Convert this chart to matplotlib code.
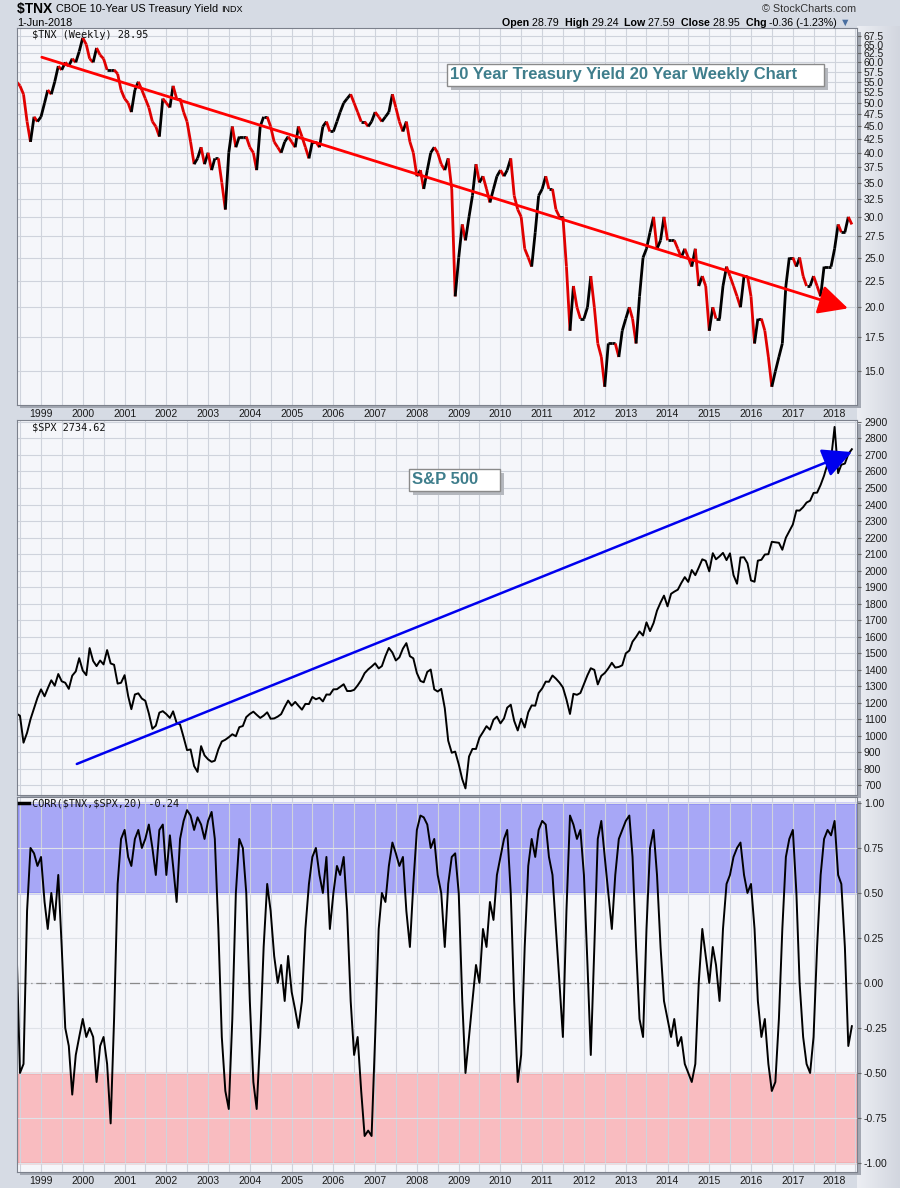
import numpy as np
import pandas as pd
import matplotlib
matplotlib.use("Agg")
import matplotlib.pyplot as plt
import matplotlib.dates as mdates
import matplotlib.patheffects as pe
from matplotlib.collections import LineCollection
from matplotlib.colors import LinearSegmentedColormap
from matplotlib.patches import Rectangle
from matplotlib.ticker import FixedLocator, FormatStrFormatter, NullLocator

plt.rcParams['font.family'] = ['Liberation Sans', 'DejaVu Sans']

# monthly samples, Jun 1998 .. Jun 2018
dates = pd.date_range('1998-06-01', '2018-06-01', freq='MS')

# $TNX (yield x 10)
tnx = [55, 54, 52, 46, 42, 47, 46,
       47, 50, 53, 52, 55, 59, 58, 60, 59, 61, 60, 63,
       67, 65, 61, 60, 64, 62, 61, 58, 58, 58, 57, 53,
       51, 50, 48, 53, 55, 53, 51, 49, 46, 45, 43, 51,
       50, 49, 54, 51, 51, 48, 46, 42, 38, 39, 41, 38,
       40, 37, 39, 39, 35, 31, 40, 45, 41, 43, 43, 43,
       41, 40, 37, 45, 47, 47, 45, 42, 41, 40, 42, 43,
       42, 41, 45, 43, 41, 39, 42, 42, 41, 45, 46, 44,
       44, 46, 48, 50, 51, 52, 50, 48, 46, 46, 45, 46,
       48, 47, 46, 47, 48, 52, 49, 46, 44, 46, 42, 40,
       36, 37, 34, 37, 40, 41, 40, 38, 37, 39, 34, 21,
       25, 29, 27, 30, 33, 38, 35, 36, 34, 32, 34, 36,
       37, 36, 37, 39, 33, 31, 30, 26, 25, 24, 28, 33,
       34, 36, 34, 34, 31, 30, 30, 24, 18, 22, 20, 19,
       19, 20, 23, 20, 17, 16, 14, 17, 17, 17, 16, 18,
       19, 20, 19, 17, 21, 25, 26, 28, 30, 26, 27, 30,
       27, 27, 27, 26, 25, 26, 25, 24, 26, 22, 23, 22,
       18, 20, 19, 19, 22, 24, 23, 22, 21, 20, 23, 23,
       21, 17, 19, 19, 18, 16, 14, 15, 16, 17, 22, 25,
       25, 24, 25, 23, 22, 22, 23, 22, 21, 24, 24, 24,
       26, 29, 28, 28, 30, 29]

# $SPX
spx = [1133, 1120, 957, 1017, 1099, 1164, 1229,
       1280, 1238, 1286, 1335, 1302, 1373, 1329, 1320, 1283, 1363, 1389, 1469,
       1394, 1366, 1530, 1452, 1421, 1455, 1431, 1518, 1437, 1429, 1315, 1320,
       1366, 1240, 1160, 1249, 1256, 1224, 1211, 1134, 1041, 1060, 1139, 1148,
       1130, 1107, 1147, 1077, 1067, 990, 912, 916, 815, 780, 936, 880,
       856, 841, 848, 917, 964, 975, 990, 1008, 996, 1051, 1058, 1112,
       1131, 1145, 1126, 1107, 1121, 1141, 1102, 1104, 1115, 1130, 1174, 1212,
       1181, 1204, 1181, 1157, 1192, 1191, 1234, 1220, 1229, 1207, 1249, 1248,
       1280, 1281, 1295, 1311, 1270, 1270, 1277, 1304, 1336, 1378, 1401, 1418,
       1438, 1407, 1421, 1482, 1531, 1503, 1455, 1474, 1527, 1560, 1481, 1468,
       1379, 1331, 1323, 1386, 1400, 1280, 1267, 1283, 1166, 969, 896, 903,
       826, 735, 680, 873, 919, 919, 987, 1021, 1057, 1036, 1096, 1115,
       1074, 1104, 1169, 1187, 1089, 1031, 1102, 1049, 1141, 1183, 1181, 1258,
       1286, 1327, 1326, 1364, 1345, 1321, 1292, 1219, 1131, 1253, 1247, 1258,
       1312, 1366, 1408, 1398, 1310, 1362, 1379, 1407, 1441, 1412, 1416, 1426,
       1498, 1515, 1569, 1598, 1631, 1606, 1686, 1633, 1682, 1757, 1806, 1848,
       1783, 1859, 1872, 1884, 1924, 1960, 1931, 2003, 1972, 2018, 2068, 2059,
       1995, 2105, 2068, 2086, 2107, 2063, 2104, 1972, 1920, 2079, 2080, 2044,
       1940, 1932, 2060, 2065, 2097, 2099, 2174, 2171, 2168, 2126, 2199, 2239,
       2279, 2364, 2363, 2384, 2412, 2423, 2470, 2472, 2519, 2575, 2648, 2674,
       2870, 2590, 2641, 2648, 2705, 2735]

# CORR($TNX,$SPX,20)
corr = [0.2, -0.5, -0.45, 0.4, 0.75, 0.72, 0.65,
        0.7, 0.45, 0.3, 0.5, 0.35, 0.6, 0.2, -0.25, -0.35, -0.62, -0.4, -0.3,
        -0.2, -0.3, -0.25, -0.3, -0.55, -0.35, -0.3, -0.45, -0.78, -0.2, 0.55, 0.8,
        0.85, 0.7, 0.65, 0.8, 0.85, 0.75, 0.8, 0.88, 0.75, 0.6, 0.85, 0.88,
        0.6, 0.82, 0.65, 0.45, 0.8, 0.9, 0.96, 0.93, 0.85, 0.92, 0.88, 0.8,
        0.9, 0.95, 0.8, 0.3, -0.3, -0.6, -0.7, -0.2, 0.5, 0.8, 0.75, 0.5,
        -0.1, -0.55, -0.7, -0.3, 0.2, 0.55, 0.4, 0.15, 0.0, 0.1, -0.1, 0.15,
        -0.05, -0.15, -0.25, -0.1, 0.3, 0.55, 0.7, 0.75, 0.6, 0.5, 0.7, 0.3,
        0.5, 0.65, 0.6, 0.7, 0.4, -0.1, -0.4, -0.3, -0.6, -0.85, -0.82, -0.85,
        -0.3, 0.3, 0.5, 0.45, 0.65, 0.78, 0.72, 0.65, 0.7, 0.4, 0.2, 0.55,
        0.85, 0.93, 0.92, 0.88, 0.75, 0.8, 0.6, 0.5, 0.2, 0.55, 0.7, 0.72,
        0.5, -0.1, -0.5, -0.3, -0.1, 0.1, 0.0, 0.3, 0.2, 0.45, 0.35, 0.6,
        0.7, 0.8, 0.85, 0.5, -0.1, -0.55, -0.4, 0.2, 0.65, 0.8, 0.7, 0.85,
        0.9, 0.88, 0.7, 0.6, 0.3, 0.0, -0.3, 0.4, 0.93, 0.88, 0.8, 0.85,
        0.6, 0.1, -0.4, 0.2, 0.8, 0.9, 0.7, 0.5, 0.3, 0.6, 0.8, 0.85,
        0.9, 0.93, 0.7, 0.2, -0.2, -0.3, 0.3, 0.75, 0.85, 0.6, 0.2, -0.1,
        -0.2, -0.3, -0.2, -0.35, -0.3, -0.45, -0.5, -0.55, -0.45, 0.0, 0.3, 0.15,
        0.0, 0.2, 0.1, -0.1, 0.3, 0.55, 0.6, 0.7, 0.75, 0.78, 0.6, 0.5,
        0.55, 0.3, -0.1, -0.3, -0.2, -0.45, -0.6, -0.55, -0.2, 0.3, 0.7, 0.8,
        0.85, 0.5, 0.0, -0.3, -0.45, -0.5, -0.3, 0.2, 0.6, 0.8, 0.85, 0.82,
        0.9, 0.6, 0.55, 0.2, -0.35, -0.24]

tnx_ticks = np.arange(15, 68, 2.5)
spx_ticks = np.arange(700, 2901, 100)
corr_ticks = np.arange(-1, 1.01, 0.25)

W, H = 900, 1188
fig = plt.figure(figsize=(W / 100, H / 100), dpi=100, facecolor='#d6dbe4')


def px_axes(left, top, right, bottom, **kw):
    return fig.add_axes([left / W, 1 - bottom / H, (right - left) / W, (bottom - top) / H], **kw)


def fx(x):
    return x / W


def fy(y):
    return 1 - y / H


# light label strip on the right
bg = px_axes(857, 26, 900, 1188, zorder=-5)
bg.imshow(np.linspace(0, 1, 50)[None, :], aspect='auto',
          cmap=LinearSegmentedColormap.from_list('strip', ['#eceef3', '#d2d6df']))
bg.axis('off')

panels = [(17, 28, 857, 405), (17, 420, 857, 795), (17, 797, 857, 1172)]
for (l, t, r, b) in panels:
    # soft drop shadow right and below each panel
    fig.patches.append(Rectangle((fx(r), fy(b + 3)), 4 / W, (b - t - 1) / H,
                                 transform=fig.transFigure, fc='#a3a8b2', ec='none', zorder=-1))
    fig.patches.append(Rectangle((fx(l + 3), fy(b + 3)), (r - l) / W, 3 / H,
                                 transform=fig.transFigure, fc='#a3a8b2', ec='none', zorder=-1))
ax1, ax2, ax3 = [px_axes(*p) for p in panels]

xmin, xmax = pd.Timestamp('1998-06-05'), pd.Timestamp('2018-07-16')
for ax in (ax1, ax2, ax3):
    ax.set_facecolor('#f5f6fa')
    ax.set_xlim(xmin, xmax)
    ax.xaxis.set_major_locator(mdates.YearLocator())
    ax.xaxis.set_minor_locator(mdates.MonthLocator(bymonth=7))
    ax.xaxis.set_major_formatter(mdates.DateFormatter('%Y'))
    ax.grid(True, which='both', axis='x', color='#cfd3dc', lw=0.8)
    ax.grid(True, which='major', axis='y', color='#cfd3dc', lw=0.8)
    ax.yaxis.tick_right()
    ax.tick_params(axis='y', which='major', labelsize=7.5, length=3, pad=2,
                   color='#666666', labelcolor='#1a1a1a')
    ax.tick_params(axis='x', which='both', length=0, labelsize=7.5, pad=3,
                   labelcolor='#1a1a1a')
    for s in ax.spines.values():
        s.set_color('#7c818c')
    ax.set_axisbelow(True)
ax2.tick_params(axis='x', labelbottom=False)

# top panel: TNX, black up / red down
xd = mdates.date2num(dates)
pts = np.column_stack([xd, tnx])
segs = np.stack([pts[:-1], pts[1:]], axis=1)
cols = ['black' if b >= a else '#e00000' for a, b in zip(tnx[:-1], tnx[1:])]
ax1.set_yscale('log')
ax1.add_collection(LineCollection(segs, colors=cols, lw=2.0))
ax1.set_ylim(12.9, 70)
ax1.yaxis.set_major_locator(FixedLocator(tnx_ticks))
ax1.yaxis.set_major_formatter(FormatStrFormatter('%.1f'))
ax1.yaxis.set_minor_locator(NullLocator())
ax1.annotate('', xy=(pd.Timestamp('2018-04-28'), 19.9), xytext=(pd.Timestamp('1999-01-08'), 61.4),
             arrowprops=dict(arrowstyle='-|>,head_length=0.9,head_width=0.45', color='#ff0000',
                             lw=2, mutation_scale=20, shrinkA=0, shrinkB=0))

# middle panel: SPX
ax2.plot(dates, spx, color='black', lw=1.4)
ax2.set_ylim(640, 2912)
ax2.yaxis.set_major_locator(FixedLocator(spx_ticks))
ax2.yaxis.set_major_formatter(FormatStrFormatter('%d'))
ax2.annotate('', xy=(pd.Timestamp('2018-06-01'), 2718), xytext=(pd.Timestamp('1999-11-10'), 828),
             arrowprops=dict(arrowstyle='-|>,head_length=0.9,head_width=0.45', color='#0000ee',
                             lw=1.8, mutation_scale=20, shrinkA=0, shrinkB=0))

# bottom panel: correlation
ax3.axhspan(0.5, 1.0, facecolor='#a7a7f6', edgecolor='#3535e8', lw=1, zorder=0.5)
ax3.axhspan(-1.0, -0.5, facecolor='#f9bcc0', edgecolor='#e07070', lw=1, zorder=0.5)
ax3.axhline(0, color='#8a8a8a', lw=0.9, ls=(0, (8, 3, 1, 3)), zorder=0.6)
ax3.plot(dates, corr, color='black', lw=1.4)
ax3.set_ylim(-1.05, 1.033)
ax3.yaxis.set_major_locator(FixedLocator(corr_ticks))
ax3.yaxis.set_major_formatter(FormatStrFormatter('%.2f'))
ax3.grid(True, which='major', axis='y', color='#dfe2e8', lw=0.8)

# panel labels
mono = ['DejaVu Sans Mono']
fig.text(fx(32), fy(35), '\\$TNX (Weekly) 28.95', family=mono, size=7.4, va='center', color='#111')
fig.text(fx(32), fy(427), '\\$SPX 2734.62', family=mono, size=7.4, va='center', color='#111')
fig.add_artist(plt.Line2D([fx(19), fx(29)], [fy(803), fy(803)], color='black', lw=2.5))
fig.text(fx(32), fy(803), 'CORR(\\$TNX,\\$SPX,20) -0.24', family=mono, size=7.4, va='center', color='#111')

# header
renderer = fig.canvas.get_renderer()


def run_text(x, y, parts):
    for s, size, weight, color in parts:
        t = fig.text(fx(x), fy(y), s, size=size, weight=weight, color=color, va='center')
        x += t.get_window_extent(renderer).width
    return x


run_text(17, 9, [('\\$TNX ', 10, 'bold', '#000'),
                 ('CBOE 10-Year US Treasury Yield ', 7.8, 'normal', '#000'),
                 ('INDX', 6.5, 'normal', '#000')])
fig.text(fx(17), fy(23), '1-Jun-2018', size=7.8, va='center', color='#000')
fig.text(fx(856), fy(9), '\u00a9 StockCharts.com', size=7.8, va='center', ha='right', color='#333')
run_text(502, 23, [('Open ', 7.7, 'bold', '#000'), ('28.79  ', 7.7, 'normal', '#000'),
                   ('High ', 7.7, 'bold', '#000'), ('29.24  ', 7.7, 'normal', '#000'),
                   ('Low ', 7.7, 'bold', '#000'), ('27.59  ', 7.7, 'normal', '#000'),
                   ('Close ', 7.7, 'bold', '#000'), ('28.95  ', 7.7, 'normal', '#000'),
                   ('Chg ', 7.7, 'bold', '#000'), ('-0.36 (-1.23%) ', 7.7, 'normal', '#000'),
                   ('\u25bc', 7.7, 'normal', '#4a6fa0')])

# annotation boxes with shadow
shadow = [pe.withSimplePatchShadow(offset=(3, -3), shadow_rgbFace='#b5b8be', alpha=1)]
for (x, y, s) in [(450, 75, '10 Year Treasury Yield 20 Year Weekly Chart' + '\u00a0' * 5),
                  (412, 480, 'S&P 500' + '\u00a0' * 4)]:
    t = fig.text(fx(x), fy(y), s, size=12, weight='bold', color='#3f7e8c', va='center',
                 bbox=dict(boxstyle='square,pad=0.2', fc='white', ec='#8a8a8a', lw=1))
    t.get_bbox_patch().set_path_effects(shadow)

fig.savefig('out.png', dpi=100, facecolor=fig.get_facecolor())
